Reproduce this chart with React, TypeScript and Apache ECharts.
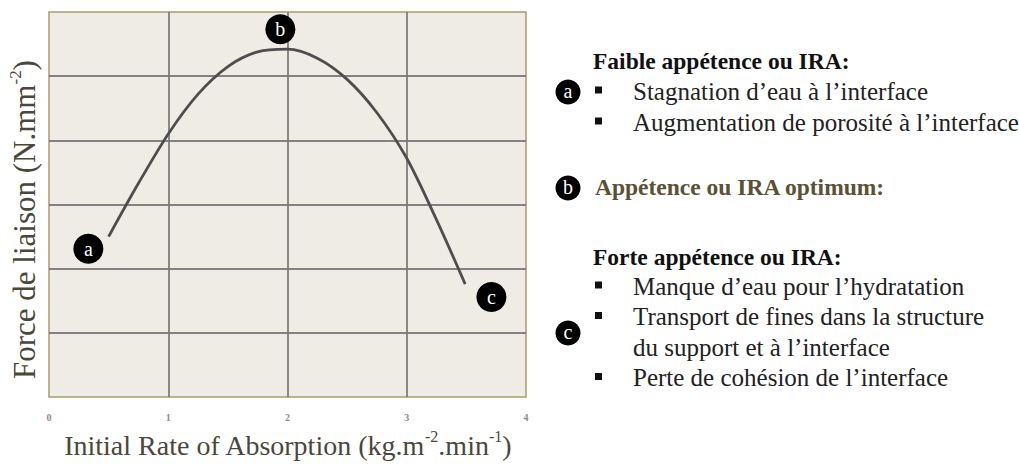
import React, { useEffect, useRef } from 'react';
import * as echarts from 'echarts';

// ---- data ----
const xTickLabels = ['0', '1', '2', '3', '4'];
const curveX = [0.5, 0.75, 1.0, 1.25, 1.5, 1.75, 2.0, 2.25, 2.5, 2.75, 3.0, 3.25, 3.49];
const curveY = [2.5, 3.33, 4.1, 4.72, 5.15, 5.38, 5.42, 5.28, 4.95, 4.43, 3.72, 2.76, 1.76];
const markerNames = ['a', 'b', 'c'];
const markerX = [0.33, 1.94, 3.71];
const markerY = [2.31, 5.73, 1.56];

const xTitleParts = ['Initial Rate of Absorption (kg.m', '-2', '.min', '-1', ')'];
const yTitleParts = ['Force de liaison (N.mm', '-2', ')'];

const headingA = 'Faible appétence ou IRA:';
const linesA = ['Stagnation d\u2019eau à l\u2019interface', 'Augmentation de porosité à l\u2019interface'];
const headingB = 'Appétence ou IRA optimum:';
const headingC = 'Forte appétence ou IRA:';
const linesC = [
  'Manque d\u2019eau pour l\u2019hydratation',
  'Transport de fines dans la structure',
  'du support et à l\u2019interface',
  'Perte de cohésion de l\u2019interface',
];
const bulletsC = [true, true, false, true];

const SERIF = '"Liberation Serif", "DejaVu Serif", serif';

export default function App() {
  const ref = useRef<HTMLDivElement>(null);

  useEffect(() => {
    if (!ref.current) return;
    const chart = echarts.init(ref.current, undefined, { renderer: 'svg' });

    const titleColor = '#4a473b';
    const richTitle = (size: number) => ({
      m: { fontSize: size, fontFamily: SERIF, color: titleColor, lineHeight: 34 },
      s: { fontSize: Math.round(size * 0.56), fontFamily: SERIF, color: titleColor, lineHeight: 27, verticalAlign: 'top' },
    });
    const richName = (parts: string[]) =>
      parts.map((p, i) => (i % 2 === 1 ? `{s|${p}}` : `{m|${p}}`)).join('');

    const textX = 633;
    const headX = 593;
    const bodyFont = `25px ${SERIF}`;
    const boldFont = `bold 23.5px ${SERIF}`;
    const graphics: any[] = [];

    const circle = (cx: number, cy: number, letter: string) => {
      graphics.push({ type: 'circle', shape: { cx, cy, r: 12.5 }, style: { fill: '#000' } });
      graphics.push({
        type: 'text', x: cx, y: cy - 1,
        style: { text: letter, fill: '#fff', font: `20px ${SERIF}`, align: 'center', verticalAlign: 'middle' },
      });
    };
    const text = (x: number, y: number, t: string, font: string, fill: string) =>
      graphics.push({ type: 'text', x, y, style: { text: t, font, fill, align: 'left', verticalAlign: 'middle' } });
    const bullet = (y: number) =>
      graphics.push({ type: 'rect', shape: { x: 595, y: y - 4.5, width: 7, height: 7 }, style: { fill: '#111' } });

    // block a
    text(headX, 61, headingA, boldFont, '#111');
    linesA.forEach((l, i) => {
      const y = 91 + i * 31;
      bullet(y);
      text(textX, y, l, bodyFont, '#222');
    });
    circle(568, 92, 'a');
    // block b
    circle(568, 188, 'b');
    text(595, 187, headingB, boldFont, '#5a5234');
    // block c
    text(headX, 257, headingC, boldFont, '#111');
    linesC.forEach((l, i) => {
      const y = 286 + i * 30.5;
      if (bulletsC[i]) bullet(y);
      text(textX, y, l, bodyFont, '#222');
    });
    circle(568, 333, 'c');

    chart.setOption({
      animation: false,
      backgroundColor: '#ffffff',
      grid: {
        left: 49, top: 12, width: 477, height: 389,
        show: true, backgroundColor: '#efece6', borderColor: '#a69d6b', borderWidth: 1.5,
      },
      xAxis: {
        type: 'value', min: 0, max: 4, interval: 1,
        axisLine: { show: false }, axisTick: { show: false },
        axisLabel: {
          color: '#8c8c8c', fontSize: 10, fontWeight: 'bold', margin: 15, fontFamily: SERIF,
          formatter: (v: number) => xTickLabels[Math.round(v)] ?? '',
        },
        splitLine: { show: true, showMinLine: false, showMaxLine: false, lineStyle: { color: '#777777', width: 2, opacity: 0.85 } },
        name: richName(xTitleParts),
        nameLocation: 'middle',
        nameGap: 31,
        nameTextStyle: { rich: richTitle(28) },
      },
      yAxis: {
        type: 'value', min: 0, max: 6, interval: 1,
        axisLine: { show: false }, axisTick: { show: false }, axisLabel: { show: false },
        splitLine: { show: true, showMinLine: false, showMaxLine: false, lineStyle: { color: '#707070', width: 2, opacity: 0.85 } },
        name: richName(yTitleParts),
        nameLocation: 'middle',
        nameRotate: 90,
        nameGap: 8,
        nameTextStyle: { rich: richTitle(31), padding: [0, 30, 0, 0] },
      },
      series: [
        {
          type: 'line',
          data: curveX.map((x, i) => [x, curveY[i]]),
          smooth: 0.3,
          showSymbol: false,
          symbol: 'none',
          lineStyle: { color: '#4e4e4e', width: 2.8 },
          z: 3,
        },
        {
          type: 'scatter',
          data: markerX.map((x, i) => [x, markerY[i]]),
          symbolSize: 30,
          itemStyle: { color: '#000', opacity: 1 },
          label: {
            show: true, position: 'inside', color: '#fff', fontSize: 20, fontFamily: SERIF,
            formatter: (p: any) => markerNames[p.dataIndex],
          },
          z: 4,
        },
      ],
      graphic: graphics,
    });

    return () => chart.dispose();
  }, []);

  return (
    <div
      ref={ref}
      style={{ position: 'fixed', left: 0, top: 0, width: 1019, height: 464, background: '#fff' }}
    />
  );
}
